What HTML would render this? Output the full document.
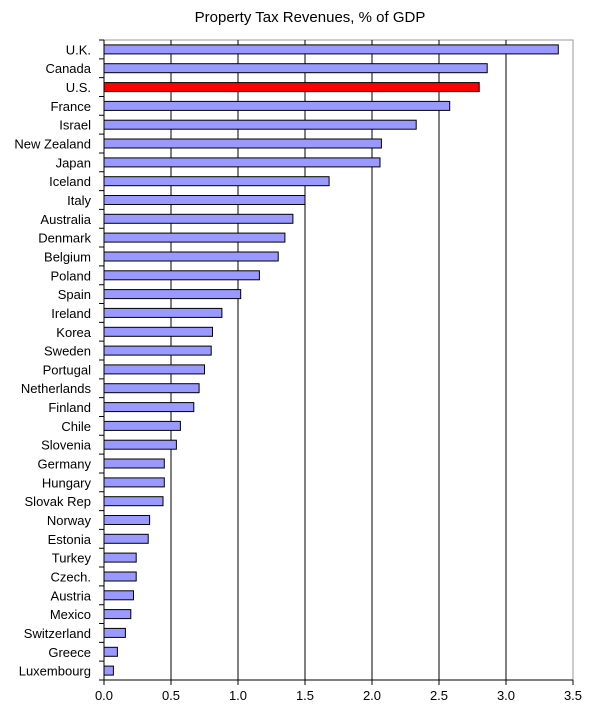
<!DOCTYPE html>
<html><head><style>body{margin:0;background:#fff}svg{display:block}text{font-family:"Liberation Sans",sans-serif;fill:#000}</style></head><body>
<svg width="607" height="726" xmlns="http://www.w3.org/2000/svg">
<text x="310" y="22" font-size="15" text-anchor="middle">Property Tax Revenues, % of GDP</text>
<rect x="104" y="40" width="469" height="640" fill="none" stroke="#999"/>
<g stroke="#000">
<line x1="171" y1="40" x2="171" y2="680"/><line x1="238" y1="40" x2="238" y2="680"/><line x1="305" y1="40" x2="305" y2="680"/><line x1="372" y1="40" x2="372" y2="680"/><line x1="439" y1="40" x2="439" y2="680"/><line x1="506" y1="40" x2="506" y2="680"/>
<path d="M104 680v5M171 680v5M238 680v5M305 680v5M372 680v5M439 680v5M506 680v5M573 680v5" fill="none"/>
<path fill="none" d="M99 40h5M99 58.82h5M99 77.65h5M99 96.47h5M99 115.29h5M99 134.12h5M99 152.94h5M99 171.76h5M99 190.59h5M99 209.41h5M99 228.24h5M99 247.06h5M99 265.88h5M99 284.71h5M99 303.53h5M99 322.35h5M99 341.18h5M99 360h5M99 378.82h5M99 397.65h5M99 416.47h5M99 435.29h5M99 454.12h5M99 472.94h5M99 491.76h5M99 510.59h5M99 529.41h5M99 548.24h5M99 567.06h5M99 585.88h5M99 604.71h5M99 623.53h5M99 642.35h5M99 661.18h5M99 680h5"/>
</g>
<g font-size="13" text-anchor="middle">
<text x="104" y="700">0.0</text><text x="171" y="700">0.5</text><text x="238" y="700">1.0</text><text x="305" y="700">1.5</text><text x="372" y="700">2.0</text><text x="439" y="700">2.5</text><text x="506" y="700">3.0</text><text x="573" y="700">3.5</text>
</g>
<g fill="#9999ff" stroke="#000">
<rect x="104" y="44.9" width="454.3" height="9"/>
<rect x="104" y="63.7" width="383.2" height="9"/>
<rect x="104" y="82.6" width="375.2" height="9" fill="#ff0000"/>
<rect x="104" y="101.4" width="345.7" height="9"/>
<rect x="104" y="120.2" width="312.2" height="9"/>
<rect x="104" y="139.0" width="277.4" height="9"/>
<rect x="104" y="157.9" width="276.0" height="9"/>
<rect x="104" y="176.7" width="225.1" height="9"/>
<rect x="104" y="195.5" width="201" height="9"/>
<rect x="104" y="214.3" width="188.9" height="9"/>
<rect x="104" y="233.1" width="180.9" height="9"/>
<rect x="104" y="252.0" width="174.2" height="9"/>
<rect x="104" y="270.8" width="155.4" height="9"/>
<rect x="104" y="289.6" width="136.7" height="9"/>
<rect x="104" y="308.4" width="117.9" height="9"/>
<rect x="104" y="327.3" width="108.5" height="9"/>
<rect x="104" y="346.1" width="107.2" height="9"/>
<rect x="104" y="364.9" width="100.5" height="9"/>
<rect x="104" y="383.7" width="95.1" height="9"/>
<rect x="104" y="402.6" width="89.8" height="9"/>
<rect x="104" y="421.4" width="76.4" height="9"/>
<rect x="104" y="440.2" width="72.4" height="9"/>
<rect x="104" y="459.0" width="60.3" height="9"/>
<rect x="104" y="477.9" width="60.3" height="9"/>
<rect x="104" y="496.7" width="59" height="9"/>
<rect x="104" y="515.5" width="45.6" height="9"/>
<rect x="104" y="534.3" width="44.2" height="9"/>
<rect x="104" y="553.1" width="32.2" height="9"/>
<rect x="104" y="572.0" width="32.2" height="9"/>
<rect x="104" y="590.8" width="29.5" height="9"/>
<rect x="104" y="609.6" width="26.8" height="9"/>
<rect x="104" y="628.4" width="21.4" height="9"/>
<rect x="104" y="647.3" width="13.4" height="9"/>
<rect x="104" y="666.1" width="9.4" height="9"/>
</g>
<g stroke="#000"><line x1="104" y1="40" x2="104" y2="680"/><line x1="104" y1="680" x2="573" y2="680"/></g>
<g font-size="13" text-anchor="end">
<text x="91" y="54.4">U.K.</text>
<text x="91" y="73.2">Canada</text>
<text x="91" y="92.1">U.S.</text>
<text x="91" y="110.9">France</text>
<text x="91" y="129.7">Israel</text>
<text x="91" y="148.5">New Zealand</text>
<text x="91" y="167.4">Japan</text>
<text x="91" y="186.2">Iceland</text>
<text x="91" y="205">Italy</text>
<text x="91" y="223.8">Australia</text>
<text x="91" y="242.6">Denmark</text>
<text x="91" y="261.5">Belgium</text>
<text x="91" y="280.3">Poland</text>
<text x="91" y="299.1">Spain</text>
<text x="91" y="317.9">Ireland</text>
<text x="91" y="336.8">Korea</text>
<text x="91" y="355.6">Sweden</text>
<text x="91" y="374.4">Portugal</text>
<text x="91" y="393.2">Netherlands</text>
<text x="91" y="412.1">Finland</text>
<text x="91" y="430.9">Chile</text>
<text x="91" y="449.7">Slovenia</text>
<text x="91" y="468.5">Germany</text>
<text x="91" y="487.4">Hungary</text>
<text x="91" y="506.2">Slovak Rep</text>
<text x="91" y="525">Norway</text>
<text x="91" y="543.8">Estonia</text>
<text x="91" y="562.6">Turkey</text>
<text x="91" y="581.5">Czech.</text>
<text x="91" y="600.3">Austria</text>
<text x="91" y="619.1">Mexico</text>
<text x="91" y="637.9">Switzerland</text>
<text x="91" y="656.8">Greece</text>
<text x="91" y="675.6">Luxembourg</text>
</g>
</svg>
</body></html>
